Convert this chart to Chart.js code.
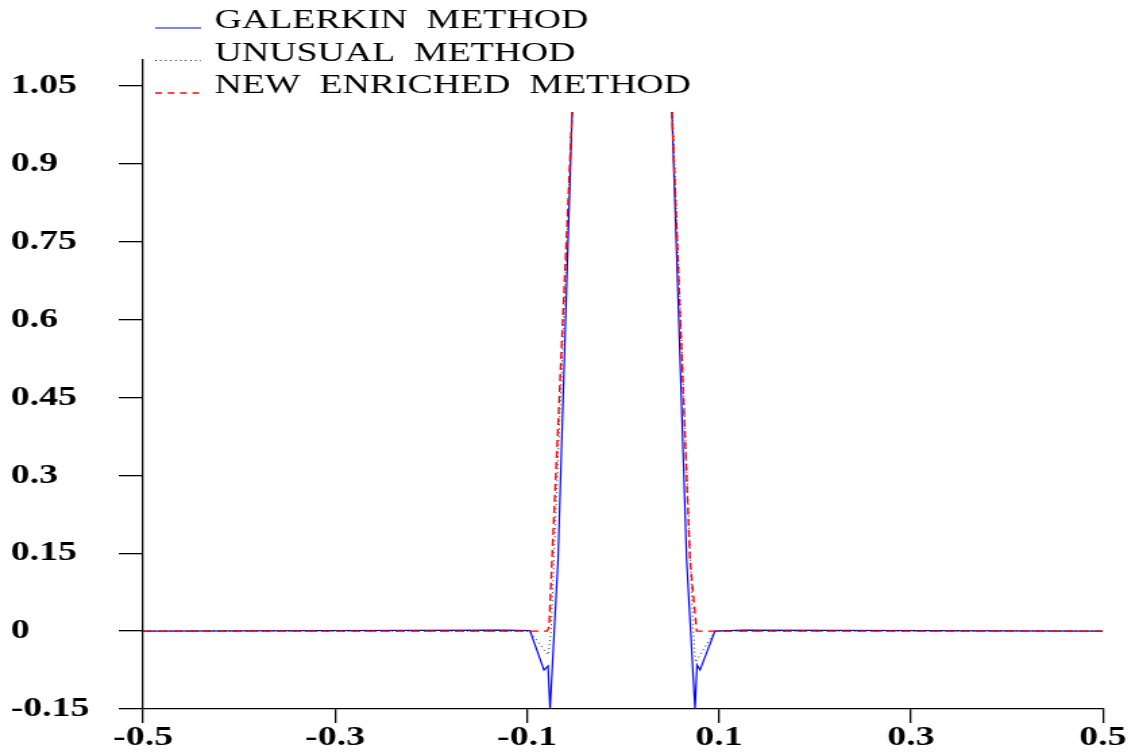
<!DOCTYPE html>
<html>
<head>
<meta charset="utf-8">
<script src="https://cdn.jsdelivr.net/npm/chart.js@4.4.1/dist/chart.umd.min.js"></script>
<style>
html,body{margin:0;padding:0;background:#fff;overflow:hidden}
/* the original plot is stretched sideways, so draw narrow and widen */
#wrap{position:absolute;left:0;top:0;width:844px;height:753px;transform:scaleX(1.3495);transform-origin:0 0}
</style>
</head>
<body>
<div id="wrap"><canvas id="plot" width="844" height="753"></canvas></div>
<script>
let xTicks=[-0.5,-0.3,-0.1,0.1,0.3,0.5]
let yTicks=[-0.15,0,0.15,0.3,0.45,0.6,0.75,0.9,1.05]
let yTickLabels=["-0.15","0","0.15","0.3","0.45","0.6","0.75","0.9","1.05"]

let labels=["GALERKIN  METHOD","UNUSUAL  METHOD","NEW  ENRICHED  METHOD"]

let galerkinX=[-0.5,-0.125,-0.097,-0.0823,-0.0781,-0.076,-0.0677,-0.053,0,0.051,0.0663,0.075,0.0771,0.0802,0.0958,0.125,0.5]
let galerkinY=[0,0.002,0.001,-0.075,-0.067,-0.15,0.137,1.0,null,1.0,0.137,-0.15,-0.065,-0.075,0,0.002,0]

let unusualX=[-0.5,-0.097,-0.078,-0.075,-0.053,0,0.0515,0.073,0.0755,0.0958,0.5]
let unusualY=[0,0,-0.046,0,1.0,null,1.0,0.008,-0.06,0,0]

let enrichedX=[-0.5,-0.079,-0.077,-0.074,-0.053,0,0.051,0.0698,0.0768,0.5]
let enrichedY=[0,0,0.008,0.137,1.0,null,1.0,0.137,0,0]


function points(xs,ys){
return xs.map((x,i)=>({x:x,y:ys[i]}))
}


/* legend: short line sample sitting on the text baseline */
let legendLines={
id:"legendLines",
afterDraw(chart){
let ctx=chart.ctx
ctx.save()
chart.data.datasets.forEach((ds,i)=>{
let y=28+i*32.5
ctx.strokeStyle=ds.borderColor
ctx.lineWidth=ds.borderWidth
ctx.setLineDash(ds.legendDash)
ctx.beginPath()
ctx.moveTo(115,y)
ctx.lineTo(149,y)
ctx.stroke()
ctx.setLineDash([])
ctx.fillStyle="#000"
ctx.font='28px "Liberation Serif"'
ctx.textBaseline="alphabetic"
ctx.fillText(ds.label,159,y)
})
ctx.restore()
}
}


let tickFont={family:"Liberation Serif",size:28,weight:"bold",lineHeight:1}

new Chart(document.getElementById("plot"),{

type:"line",

data:{
datasets:[{
label:labels[0],
data:points(galerkinX,galerkinY),
borderColor:"#0000ff",
borderWidth:1.2,
legendDash:[],
order:2
},{
label:labels[1],
data:points(unusualX,unusualY),
borderColor:"#222",
borderWidth:1,
borderDash:[1,3],
legendDash:[1,2.7],
order:1
},{
label:labels[2],
data:points(enrichedX,enrichedY),
borderColor:"#ff0000",
borderWidth:1.4,
borderDash:[7,4],
legendDash:[5,4.2],
order:0
}]
},

options:{
responsive:false,
animation:false,
devicePixelRatio:1,
spanGaps:false,
elements:{point:{radius:0},line:{tension:0}},
layout:{padding:{left:8,top:60,right:26.7,bottom:0}},
plugins:{legend:{display:false},tooltip:{enabled:false}},
scales:{
x:{
type:"linear",
min:-0.5,
max:0.5,
afterBuildTicks(s){s.ticks=xTicks.map(v=>({value:v}))},
afterFit(s){s.height=44},
border:{color:"#000",width:1.3},
grid:{drawOnChartArea:false,drawTicks:true,tickLength:14,color:"#000",lineWidth:1.3},
ticks:{color:"#000",font:tickFont,padding:1,maxRotation:0,autoSkip:false,callback:v=>String(v)}
},
y:{
type:"linear",
min:-0.15,
max:1.1,
afterBuildTicks(s){s.ticks=yTicks.map(v=>({value:v}))},
afterFit(s){s.width=98},
border:{color:"#000",width:1.3},
grid:{drawOnChartArea:false,drawTicks:true,tickLength:18,color:"#000",lineWidth:1.3},
ticks:{color:"#000",font:tickFont,crossAlign:"far",autoSkip:false,callback:(v,i)=>yTickLabels[i]}
}
}
},

plugins:[legendLines]

})
</script>
</body>
</html>
